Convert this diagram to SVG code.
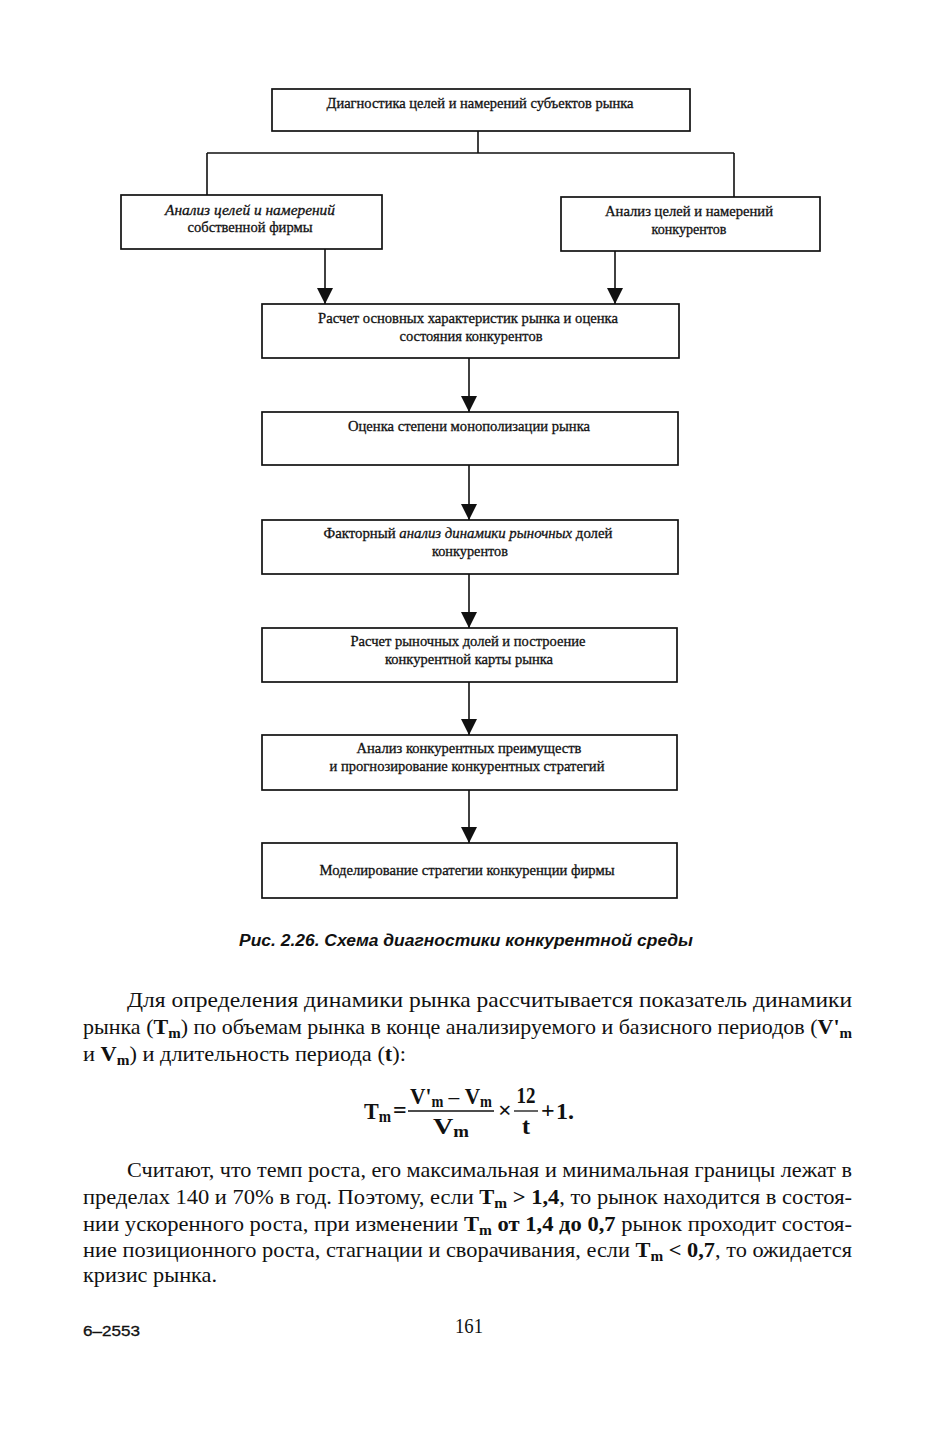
<svg xmlns="http://www.w3.org/2000/svg" width="934" height="1440" viewBox="0 0 934 1440">
<style>
.box{fill:#fff;stroke:#111;stroke-width:1.7}
.bt{font-family:"Liberation Serif","DejaVu Serif",serif;font-size:15px;fill:#111;stroke:#111;stroke-width:0.3;text-anchor:middle}
.it{font-style:italic}
.ln{stroke:#111;stroke-width:1.6;fill:none}
.p{font-family:"Liberation Serif","DejaVu Serif",serif;font-size:22px;fill:#111}
.b{font-weight:bold}
.cap{font-family:"Liberation Sans","Arial",sans-serif;font-size:16px;font-weight:bold;font-style:italic;fill:#111}
.f{font-family:"Liberation Serif","DejaVu Serif",serif;font-size:24px;fill:#111;font-weight:bold}
</style>
<defs>
<marker id="arr" viewBox="0 0 16 16" refX="16" refY="8" markerWidth="16" markerHeight="16" markerUnits="userSpaceOnUse" orient="auto">
<path d="M0,0 L16,8 L0,16 z" fill="#111"/>
</marker>
</defs>
<rect width="934" height="1440" fill="#fff"/>

<g id="connectors">
<path class="ln" d="M478,131 V153 M207,153 H734 M207,153 V196 M734,153 V197"/>
<path class="ln" d="M325,249 V304" marker-end="url(#arr)"/>
<path class="ln" d="M615,251 V304" marker-end="url(#arr)"/>
<path class="ln" d="M469,358 V412" marker-end="url(#arr)"/>
<path class="ln" d="M469,465 V520" marker-end="url(#arr)"/>
<path class="ln" d="M469,574 V628" marker-end="url(#arr)"/>
<path class="ln" d="M469,682 V735" marker-end="url(#arr)"/>
<path class="ln" d="M469,790 V843" marker-end="url(#arr)"/>
</g>

<g id="n1"><rect class="box" x="272" y="89" width="418" height="42"/>
<text class="bt" x="480" y="108" textLength="307" lengthAdjust="spacingAndGlyphs">Диагностика целей и намерений субъектов рынка</text></g>

<g id="n2"><rect class="box" x="121" y="195" width="261" height="54"/>
<text class="bt it" x="250" y="215" textLength="170" lengthAdjust="spacingAndGlyphs">Анализ целей и намерений</text>
<text class="bt" x="250" y="232" textLength="125" lengthAdjust="spacingAndGlyphs">собственной фирмы</text></g>

<g id="n3"><rect class="box" x="561" y="197" width="259" height="54"/>
<text class="bt" x="689" y="216" textLength="168" lengthAdjust="spacingAndGlyphs">Анализ целей и намерений</text>
<text class="bt" x="689" y="234" textLength="75" lengthAdjust="spacingAndGlyphs">конкурентов</text></g>

<g id="n4"><rect class="box" x="262" y="304" width="417" height="54"/>
<text class="bt" x="468" y="323" textLength="300" lengthAdjust="spacingAndGlyphs">Расчет основных характеристик рынка и оценка</text>
<text class="bt" x="471" y="341" textLength="143" lengthAdjust="spacingAndGlyphs">состояния конкурентов</text></g>

<g id="n5"><rect class="box" x="262" y="412" width="416" height="53"/>
<text class="bt" x="469" y="431" textLength="242" lengthAdjust="spacingAndGlyphs">Оценка степени монополизации рынка</text></g>

<g id="n6"><rect class="box" x="262" y="520" width="416" height="54"/>
<text class="bt" x="468" y="538" textLength="289" lengthAdjust="spacingAndGlyphs">Факторный <tspan class="it">анализ динамики рыночных</tspan> долей</text>
<text class="bt" x="470" y="556" textLength="76" lengthAdjust="spacingAndGlyphs">конкурентов</text></g>

<g id="n7"><rect class="box" x="262" y="628" width="415" height="54"/>
<text class="bt" x="468" y="646" textLength="235" lengthAdjust="spacingAndGlyphs">Расчет рыночных долей и построение</text>
<text class="bt" x="469" y="664" textLength="168" lengthAdjust="spacingAndGlyphs">конкурентной карты рынка</text></g>

<g id="n8"><rect class="box" x="262" y="735" width="415" height="55"/>
<text class="bt" x="469" y="753" textLength="225" lengthAdjust="spacingAndGlyphs">Анализ конкурентных преимуществ</text>
<text class="bt" x="467" y="771" textLength="275" lengthAdjust="spacingAndGlyphs">и прогнозирование конкурентных стратегий</text></g>

<g id="n9"><rect class="box" x="262" y="843" width="415" height="55"/>
<text class="bt" x="467" y="875" textLength="295" lengthAdjust="spacingAndGlyphs">Моделирование стратегии конкуренции фирмы</text></g>

<text class="cap" x="239" y="946" textLength="454" lengthAdjust="spacingAndGlyphs">Рис. 2.26. Схема диагностики конкурентной среды</text>

<g id="para1">
<text class="p" x="127" y="1007" textLength="725" lengthAdjust="spacingAndGlyphs">Для  определения  динамики  рынка  рассчитывается  показатель  динамики</text>
<text class="p" x="83" y="1034" textLength="769" lengthAdjust="spacingAndGlyphs">рынка (<tspan class="b">T<tspan font-size="15" dy="4">m</tspan></tspan><tspan dy="-4">) по объемам рынка в конце анализируемого и базисного периодов (</tspan><tspan class="b">V'<tspan font-size="15" dy="4">m</tspan></tspan></text>
<text class="p" x="83" y="1061" textLength="323" lengthAdjust="spacingAndGlyphs">и <tspan class="b">V<tspan font-size="15" dy="4">m</tspan></tspan><tspan dy="-4">) и длительность периода (</tspan><tspan class="b">t</tspan>):</text>
</g>

<g id="formula">
<text class="f" x="364" y="1119" textLength="27" lengthAdjust="spacingAndGlyphs">T<tspan font-size="16" dy="3">m</tspan></text>
<text class="f" x="393" y="1118" font-weight="normal" font-size="20">=</text>
<text class="f" x="451" y="1104" text-anchor="middle" textLength="82" lengthAdjust="spacingAndGlyphs">V'<tspan font-size="16" dy="3">m</tspan><tspan dy="-3" font-weight="normal"> – </tspan>V<tspan font-size="16" dy="3">m</tspan></text>
<line x1="408" y1="1111" x2="494" y2="1111" stroke="#111" stroke-width="1.3"/>
<text class="f" x="451" y="1134" text-anchor="middle" textLength="36" lengthAdjust="spacingAndGlyphs">V<tspan font-size="16" dy="3">m</tspan></text>
<text class="f" x="498" y="1118" font-weight="normal" font-size="18">×</text>
<text class="f" x="526" y="1103" text-anchor="middle" textLength="19" lengthAdjust="spacingAndGlyphs">12</text>
<line x1="514" y1="1111" x2="538" y2="1111" stroke="#111" stroke-width="1.3"/>
<text class="f" x="526" y="1134" text-anchor="middle">t</text>
<text class="f" x="541" y="1118" font-weight="normal" font-size="20">+</text>
<text class="f" x="556" y="1119">1.</text>
</g>

<g id="para2">
<text class="p" x="127" y="1177" textLength="725" lengthAdjust="spacingAndGlyphs">Считают, что темп роста, его максимальная и минимальная границы лежат в</text>
<text class="p" x="83" y="1204" textLength="769" lengthAdjust="spacingAndGlyphs">пределах 140 и 70% в год. Поэтому, если <tspan class="b">T<tspan font-size="15" dy="4">m</tspan><tspan dy="-4"> &gt; 1,4</tspan></tspan>, то рынок находится в состоя-</text>
<text class="p" x="83" y="1231" textLength="769" lengthAdjust="spacingAndGlyphs">нии ускоренного роста, при изменении <tspan class="b">T<tspan font-size="15" dy="4">m</tspan><tspan dy="-4"> от 1,4 до 0,7</tspan></tspan> рынок проходит состоя-</text>
<text class="p" x="83" y="1257" textLength="769" lengthAdjust="spacingAndGlyphs">ние позиционного роста, стагнации и сворачивания, если <tspan class="b">T<tspan font-size="15" dy="4">m</tspan><tspan dy="-4"> &lt; 0,7</tspan></tspan>, то ожидается</text>
<text class="p" x="83" y="1282" textLength="134" lengthAdjust="spacingAndGlyphs">кризис рынка.</text>
</g>

<text x="83" y="1336" font-family="Liberation Sans, Arial, sans-serif" font-size="14" fill="#111" stroke="#111" stroke-width="0.3" textLength="57" lengthAdjust="spacingAndGlyphs">6–2553</text>
<text x="455" y="1333" font-family="Liberation Serif, serif" font-size="20" fill="#111" textLength="28" lengthAdjust="spacingAndGlyphs">161</text>
</svg>
